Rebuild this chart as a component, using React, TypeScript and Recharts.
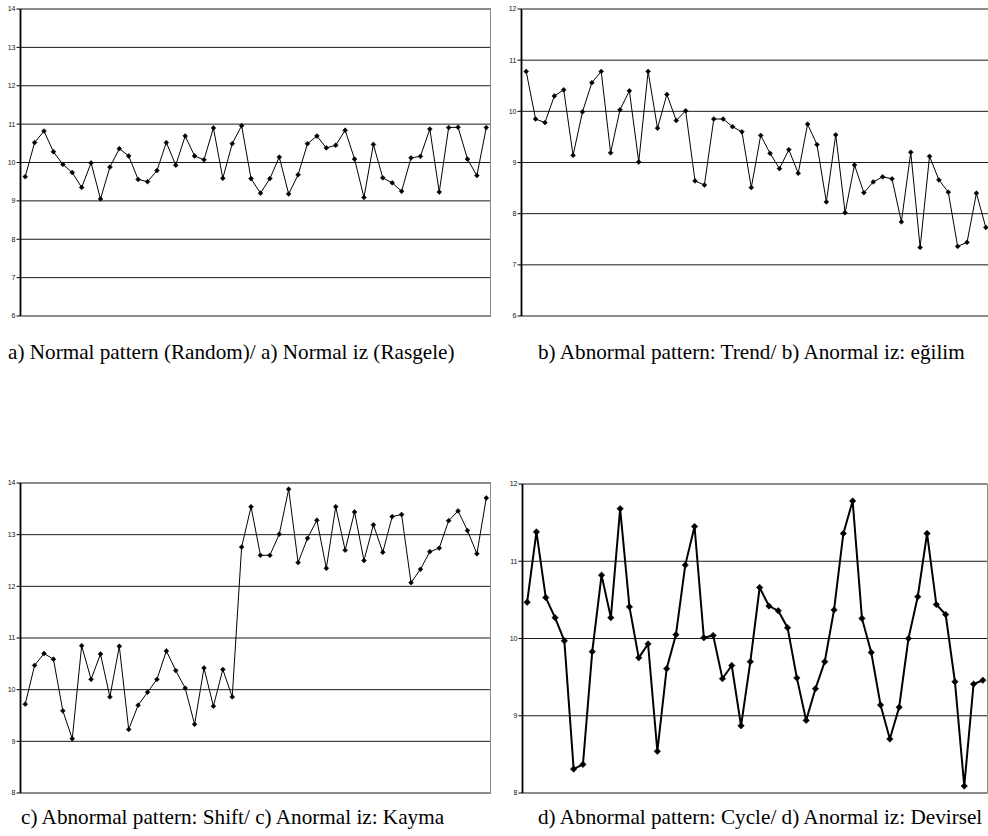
import React from "react";
import { LineChart, Line, XAxis, YAxis, CartesianGrid } from "recharts";

const randomValues = [
  9.63, 10.52, 10.82, 10.28, 9.95, 9.74, 9.35, 9.99, 9.05, 9.88,
  10.36, 10.17, 9.56, 9.5, 9.79, 10.52, 9.93, 10.69, 10.17, 10.07,
  10.9, 9.59, 10.49, 10.96, 9.58, 9.2, 9.58, 10.14, 9.18, 9.68,
  10.49, 10.69, 10.38, 10.45, 10.84, 10.09, 9.09, 10.47, 9.6, 9.47,
  9.25, 10.12, 10.16, 10.87, 9.23, 10.91, 10.92, 10.09, 9.66, 10.91,
];
const trendValues = [
  10.78, 9.85, 9.78, 10.3, 10.42, 9.14, 9.99, 10.56, 10.78, 9.19,
  10.03, 10.4, 9.01, 10.78, 9.67, 10.33, 9.82, 10.01, 8.64, 8.56,
  9.85, 9.85, 9.7, 9.6, 8.51, 9.53, 9.18, 8.88, 9.25, 8.79,
  9.75, 9.35, 8.23, 9.54, 8.02, 8.95, 8.41, 8.62, 8.72, 8.68,
  7.84, 9.2, 7.34, 9.12, 8.66, 8.42, 7.36, 7.44, 8.4, 7.73,
];
const shiftValues = [
  9.72, 10.47, 10.7, 10.59, 9.59, 9.05, 10.85, 10.2, 10.69, 9.86,
  10.84, 9.23, 9.7, 9.95, 10.2, 10.75, 10.37, 10.03, 9.33, 10.42,
  9.68, 10.39, 9.86, 12.76, 13.54, 12.6, 12.6, 13.01, 13.88, 12.46,
  12.93, 13.28, 12.35, 13.54, 12.7, 13.44, 12.5, 13.19, 12.66, 13.35,
  13.39, 12.07, 12.33, 12.67, 12.74, 13.27, 13.46, 13.08, 12.63, 13.71,
];
const cycleValues = [
  10.47, 11.38, 10.53, 10.27, 9.97, 8.31, 8.37, 9.83, 10.82, 10.27,
  11.68, 10.41, 9.75, 9.93, 8.54, 9.61, 10.05, 10.95, 11.45, 10.01,
  10.04, 9.48, 9.65, 8.87, 9.7, 10.66, 10.42, 10.36, 10.14, 9.49,
  8.94, 9.35, 9.7, 10.37, 11.36, 11.78, 10.26, 9.82, 9.14, 8.7,
  9.11, 10.0, 10.54, 11.36, 10.44, 10.31, 9.44, 8.09, 9.41, 9.46,
];

const ticksA = [6, 7, 8, 9, 10, 11, 12, 13, 14];
const ticksB = [6, 7, 8, 9, 10, 11, 12];
const ticksC = [8, 9, 10, 11, 12, 13, 14];
const ticksD = [8, 9, 10, 11, 12];

const captions = [
  "a) Normal pattern (Random)/ a) Normal iz (Rasgele)",
  "b) Abnormal pattern: Trend/ b) Anormal iz: eğilim",
  "c) Abnormal pattern: Shift/ c) Anormal iz: Kayma",
  "d) Abnormal pattern: Cycle/ d) Anormal iz: Devirsel",
];

type PanelProps = {
  values: number[];
  ticks: number[];
  left: number;
  top: number;
  width: number;
  height: number;
  marginTop: number;
  marginBottom: number;
  thick?: boolean;
  borderBottom?: boolean;
};

const AXIS_W = 20.5;

function Panel(p: PanelProps) {
  const data = p.values.map((v, i) => ({ i: i + 1, v }));
  const plotW = p.width - AXIS_W;
  const plotH = p.height - p.marginTop - p.marginBottom;
  const pad = plotW / p.values.length / 2;
  const r = p.thick ? 3.2 : 2.4;
  const Dot = (props: any) => {
    const { cx, cy, index } = props;
    if (cx == null || cy == null) return <g key={`d${index}`} />;
    return (
      <path
        key={`d${index}`}
        d={`M${cx},${cy - r}L${cx + r},${cy}L${cx},${cy + r}L${cx - r},${cy}Z`}
        fill="#000"
        stroke="#000"
        strokeWidth={0.6}
      />
    );
  };
  return (
    <div style={{ position: "absolute", left: p.left, top: p.top, width: p.width, height: p.height }}>
      <LineChart
        width={p.width}
        height={p.height}
        data={data}
        margin={{ top: p.marginTop, right: 0, bottom: p.marginBottom, left: 0 }}
      >
        <CartesianGrid horizontal vertical={false} stroke="#1a1a1a" strokeWidth={1} />
        <XAxis dataKey="i" type="category" hide padding={{ left: pad, right: pad }} />
        <YAxis
          width={AXIS_W}
          domain={[p.ticks[0], p.ticks[p.ticks.length - 1]]}
          ticks={p.ticks}
          interval={0}
          tickSize={4}
          tickMargin={1}
          stroke="#000"
          axisLine={{ stroke: "#000", strokeWidth: 1.8 }}
          tickLine={{ stroke: "#000" }}
          tick={{ fontSize: 7, fill: "#111", fontFamily: "Liberation Sans, Arial, sans-serif" }}
        />
        <Line
          dataKey="v"
          type="linear"
          stroke="#000"
          strokeWidth={p.thick ? 2 : 1}
          dot={Dot}
          isAnimationActive={false}
        />
      </LineChart>
      <div
        style={{
          position: "absolute",
          left: AXIS_W + 1,
          top: p.marginTop,
          width: plotW - 1,
          height: plotH,
          borderTop: "1px solid #8a8a8a",
          borderRight: "1px solid #8a8a8a",
          borderBottom: p.borderBottom ? "1px solid #8a8a8a" : "none",
          boxSizing: "border-box",
          pointerEvents: "none",
        }}
      />
    </div>
  );
}

const captionStyle: React.CSSProperties = {
  position: "absolute",
  fontFamily: "'Liberation Serif', 'Times New Roman', serif",
  fontSize: 21.2,
  lineHeight: "21px",
  color: "#000",
  whiteSpace: "nowrap",
};

export default function App() {
  return (
    <div style={{ position: "absolute", left: 0, top: 0, width: 988, height: 836, background: "#fff", overflow: "hidden" }}>
      <Panel values={randomValues} ticks={ticksA} left={0} top={0} width={491} height={321} marginTop={9} marginBottom={5} />
      <Panel values={trendValues} ticks={ticksB} left={500.5} top={0} width={489.5} height={321} marginTop={9} marginBottom={5} />
      <Panel values={shiftValues} ticks={ticksC} left={0} top={475} width={491} height={322} marginTop={8} marginBottom={4} />
      <Panel values={cycleValues} ticks={ticksD} left={502} top={476} width={485.5} height={322} marginTop={8} marginBottom={5} thick borderBottom />
      <div style={{ ...captionStyle, left: 8, top: 342 }}>{captions[0]}</div>
      <div style={{ ...captionStyle, left: 538, top: 342 }}>{captions[1]}</div>
      <div style={{ ...captionStyle, left: 21, top: 807 }}>{captions[2]}</div>
      <div style={{ ...captionStyle, left: 538, top: 807 }}>{captions[3]}</div>
    </div>
  );
}
